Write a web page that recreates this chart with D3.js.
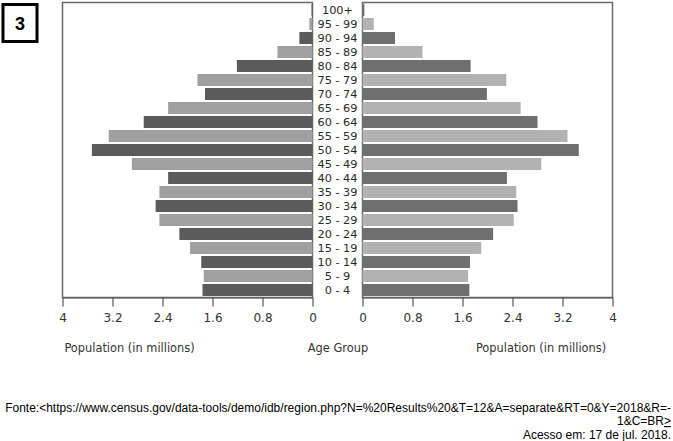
<!DOCTYPE html>
<html>
<head>
<meta charset="utf-8">
<script src="https://cdn.jsdelivr.net/npm/d3@7"></script>
<style>
  html, body { margin: 0; padding: 0; background: #fff; }
  svg { display: block; }
</style>
</head>
<body>
<svg id="chart" width="673" height="441"></svg>
<script>
// Age groups, bottom to top
const ageGroups = ["0 - 4","5 - 9","10 - 14","15 - 19","20 - 24","25 - 29","30 - 34","35 - 39","40 - 44","45 - 49","50 - 54","55 - 59","60 - 64","65 - 69","70 - 74","75 - 79","80 - 84","85 - 89","90 - 94","95 - 99","100+"];
// Left pyramid side (millions)
const leftValues = [1.76,1.74,1.78,1.96,2.13,2.45,2.51,2.45,2.31,2.89,3.53,3.26,2.70,2.31,1.72,1.84,1.21,0.56,0.21,0.05,0.015];
// Right pyramid side (millions)
const rightValues = [1.71,1.69,1.72,1.90,2.09,2.42,2.48,2.46,2.31,2.86,3.46,3.28,2.80,2.53,1.99,2.30,1.73,0.96,0.52,0.18,0.03];
const tickValues = [0, 0.8, 1.6, 2.4, 3.2, 4];
const axisTitleLeft = "Population (in millions)";
const axisTitleMid = "Age Group";
const axisTitleRight = "Population (in millions)";
const questionNumber = "3";
const sourceLine1 = "Fonte:<https://www.census.gov/data-tools/demo/idb/region.php?N=%20Results%20&T=12&A=separate&RT=0&Y=2018&R=-";
const sourceLine2a = "1&C=BR";
const sourceLine2b = ">";
const sourceLine3 = "Acesso em: 17 de jul. 2018.";

const svg = d3.select("#chart");
const plotTop = 2.5, plotBottom = 297.5;

const xL = d3.scaleLinear().domain([4, 0]).range([62.5, 312.5]);
const xR = d3.scaleLinear().domain([0, 4]).range([362.5, 612.5]);
const y = d3.scaleBand().domain(ageGroups.slice().reverse()).range([3, 297]).paddingInner(0.14).paddingOuter(0.07);

const rows = ageGroups.map((g, i) => ({ g, i, l: leftValues[i], r: rightValues[i] }));

// frames
svg.append("rect").attr("x", xL(4)).attr("y", plotTop).attr("width", xL(0) - xL(4)).attr("height", plotBottom - plotTop)
  .attr("fill", "none").attr("stroke", "#6a6a6a").attr("stroke-width", 1.5);
svg.append("rect").attr("x", xR(0)).attr("y", plotTop).attr("width", xR(4) - xR(0)).attr("height", plotBottom - plotTop)
  .attr("fill", "none").attr("stroke", "#6a6a6a").attr("stroke-width", 1.5);

// bars
svg.append("g").selectAll("rect").data(rows).join("rect")
  .attr("x", d => xL(d.l)).attr("y", d => y(d.g))
  .attr("width", d => xL(0) - xL(d.l)).attr("height", y.bandwidth())
  .attr("fill", d => d.i % 2 === 0 ? "#5b5b5b" : "#a0a0a0");
svg.append("g").selectAll("rect").data(rows).join("rect")
  .attr("x", xR(0)).attr("y", d => y(d.g))
  .attr("width", d => xR(d.r) - xR(0)).attr("height", y.bandwidth())
  .attr("fill", d => d.i % 2 === 0 ? "#6f6f6f" : "#b2b2b2");

// age labels
svg.append("g").selectAll("text").data(rows).join("text")
  .attr("x", 337.5).attr("y", d => y(d.g) + y.bandwidth() / 2 + 4)
  .attr("text-anchor", "middle")
  .attr("font-family", "DejaVu Sans").attr("font-size", 11.3).attr("fill", "#2a2a2a")
  .text(d => d.g);

// axes
const fmt = d3.format("~g");
function styleAxis(g) {
  g.select(".domain").attr("stroke", "#555").attr("stroke-width", 1.2);
  g.selectAll(".tick line").attr("stroke", "#555").attr("stroke-width", 1.2);
  g.selectAll(".tick text").attr("font-family", "DejaVu Sans").attr("font-size", 12).attr("fill", "#333").attr("dy", "1.0em");
}
svg.append("g").attr("transform", `translate(0,${plotBottom})`)
  .call(d3.axisBottom(xL).tickValues(tickValues).tickFormat(fmt).tickSize(9).tickSizeOuter(0))
  .call(styleAxis);
svg.append("g").attr("transform", `translate(0,${plotBottom})`)
  .call(d3.axisBottom(xR).tickValues(tickValues).tickFormat(fmt).tickSize(9).tickSizeOuter(0))
  .call(styleAxis);

// axis titles
const titleY = 352;
[[129.5, axisTitleLeft], [338, axisTitleMid], [541, axisTitleRight]].forEach(([x, t]) => {
  svg.append("text").attr("x", x).attr("y", titleY).attr("text-anchor", "middle")
    .attr("font-family", "DejaVu Sans").attr("font-size", 11.4).attr("fill", "#333").text(t);
});

// question number box
svg.append("rect").attr("x", 3).attr("y", 4.5).attr("width", 34).attr("height", 37)
  .attr("fill", "#fff").attr("stroke", "#000").attr("stroke-width", 3);
svg.append("text").attr("x", 20).attr("y", 30).attr("text-anchor", "middle")
  .attr("font-family", "Liberation Sans, Arial, sans-serif").attr("font-weight", "bold").attr("font-size", 18)
  .attr("fill", "#000").text(questionNumber);

// source
const src = svg.append("g").attr("font-family", "Liberation Sans, Arial, sans-serif").attr("font-size", 12).attr("fill", "#000");
src.append("text").attr("x", 671).attr("y", 411.5).attr("text-anchor", "end").text(sourceLine1);
const l2 = src.append("text").attr("x", 671).attr("y", 425).attr("text-anchor", "end");
l2.append("tspan").text(sourceLine2a);
l2.append("tspan").attr("text-decoration", "underline").text(sourceLine2b);
src.append("text").attr("x", 671).attr("y", 438.5).attr("text-anchor", "end").text(sourceLine3);
</script>
</body>
</html>
